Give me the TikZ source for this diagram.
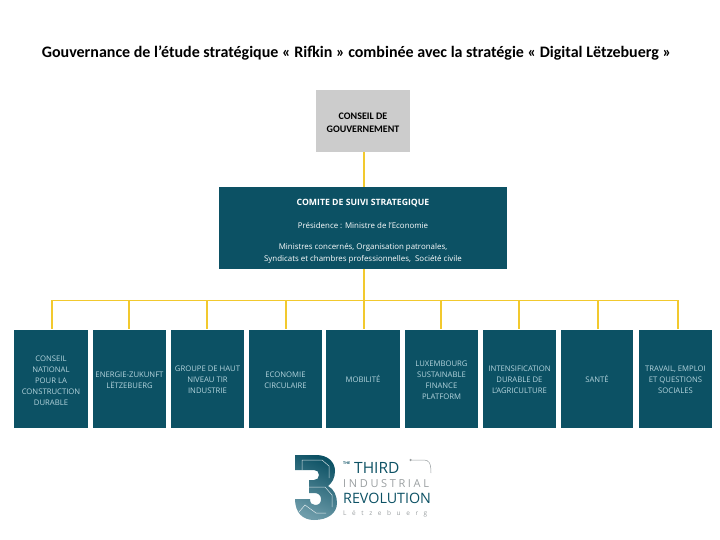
\documentclass[tikz,border=0pt]{standalone}
\usepackage{fontspec}
\usepackage{xcolor}
\usepackage{tikz}
\setmainfont{Carlito}
\newfontfamily\boxfont{Open Sans}
\newfontfamily\logofont{Open Sans}
\newfontfamily\logowide[LetterSpace=86]{Open Sans}
\newfontfamily\logospaced[LetterSpace=24]{Open Sans}
\definecolor{tealbox}{HTML}{0C5164}
\definecolor{greybox}{HTML}{CCCCCC}
\definecolor{paletext}{HTML}{B4D4DD}
\definecolor{goldline}{HTML}{F2C92E}
\definecolor{logolight}{HTML}{6E9CAA}
\definecolor{logogrey}{HTML}{9A9FA1}
\newcommand{\toppad}[1]{\rule{0pt}{#1pt}}
\tikzstyle{headbox} = [rectangle, minimum width=94pt, minimum height=62pt, inner sep=0pt, align=center, fill=greybox, text=black, font=\bfseries\fontsize{10}{12.5}\selectfont]
\tikzstyle{suivibox} = [rectangle, minimum width=288pt, minimum height=82pt, inner sep=0pt, align=center, fill=tealbox, text=white, font=\boxfont\fontsize{7.9}{11.5}\selectfont]
\tikzstyle{themebox} = [rectangle, minimum width=74pt, minimum height=98pt, inner sep=0pt, align=center, fill=tealbox, text=paletext, font=\boxfont\fontsize{7.7}{11}\selectfont]
\tikzstyle{logotext} = [inner sep=0pt, anchor=west, text=tealbox]
\tikzstyle{link} = [draw=goldline, line width=1.3pt]
\tikzstyle{trace} = [draw=white, line width=0.5pt, opacity=0.8]

\begin{document}
\begin{tikzpicture}[x=1pt, y=-1pt]
        \useasboundingbox (0,0) rectangle (720,540);
        \node (title) at (356.5,53) [inner sep=0pt, font=\bfseries\fontsize{16}{18}\selectfont] {Gouvernance de l’étude stratégique « Rifkin » combinée avec la stratégie « Digital Lëtzebuerg »};

        \node (conseil) at (363,121) [headbox] {\toppad{10}CONSEIL DE\\GOUVERNEMENT};
        \node (comite) at (363,228) [suivibox] {\toppad{12}{\bfseries\fontsize{8.7}{11.5}\selectfont COMITE DE SUIVI STRATEGIQUE}\\[11.5pt]Présidence : Ministre de l’Economie\\[10pt]Ministres concernés, Organisation patronales,\\Syndicats et chambres professionnelles,\ \ Société civile};

        \node (cnpcd) at (51,378.5) [themebox] {\toppad{10}CONSEIL\\NATIONAL\\POUR LA\\CONSTRUCTION\\DURABLE};
        \node (energie) at (129.5,378.5) [themebox, minimum width=73pt] {\toppad{10}ENERGIE-ZUKUNFT\\LËTZEBUERG};
        \node (groupe) at (207.5,378.5) [themebox, minimum width=73pt] {\toppad{9}GROUPE DE HAUT\\NIVEAU TIR\\INDUSTRIE};
        \node (economie) at (285.5,378.5) [themebox, minimum width=73pt] {\toppad{10}ECONOMIE\\CIRCULAIRE};
        \node (mobilite) at (363,378.5) [themebox] {MOBILITÉ};
        \node (finance) at (441.5,378.5) [themebox, minimum width=73pt] {\toppad{10}LUXEMBOURG\\SUSTAINABLE\\FINANCE\\PLATFORM};
        \node (agri) at (519.5,378.5) [themebox, minimum width=73pt] {\toppad{9}INTENSIFICATION\\DURABLE DE\\L’AGRICULTURE};
        \node (sante) at (597,378.5) [themebox, minimum width=72pt] {SANTÉ};
        \node (travail) at (675.5,378.5) [themebox, minimum width=73pt] {\toppad{9}TRAVAIL, EMPLOI\\ET QUESTIONS\\SOCIALES};

        \coordinate (bus) at (364,300.5);

        \draw [link] ([xshift=1pt]conseil.south) -- ([xshift=1pt]comite.north);
        \draw [link] ([xshift=1pt]comite.south) -- (bus);
        \draw [link] (bus) -| ([xshift=1pt]cnpcd.north);
        \draw [link] (bus) -| ([xshift=-0.5pt]energie.north);
        \draw [link] (bus) -| ([xshift=-0.5pt]groupe.north);
        \draw [link] (bus) -| ([xshift=0.5pt]economie.north);
        \draw [link] (bus) -- ([xshift=1pt]mobilite.north);
        \draw [link] (bus) -| ([xshift=-0.5pt]finance.north);
        \draw [link] (bus) -| ([xshift=-0.5pt]agri.north);
        \draw [link] (bus) -| ([xshift=1pt]sante.north);
        \draw [link] (bus) -| ([xshift=2.5pt]travail.north);

        % logo
        \shade [top color=tealbox, bottom color=logolight, shading angle=-25]
          (295,455) -- (316,455) .. controls (328,455) and (335,462) .. (335,471)
          .. controls (335,478) and (332,483) .. (328,486)
          .. controls (334,489) and (337,496) .. (337,503)
          .. controls (337,513) and (328,520) .. (314,520)
          .. controls (303,520) and (295,513) .. (295,499)
          -- (310,499) .. controls (310,503) and (312,505) .. (315,505)
          .. controls (319,505) and (321,503) .. (321,499)
          .. controls (321,495) and (318,493) .. (314,493)
          -- (309,493) -- (309,480) -- (314,480)
          .. controls (317,480) and (319,478) .. (319,475)
          .. controls (319,472) and (317,470) .. (314,470)
          -- (295,470) -- cycle;
        \draw [trace] (302,470) -- (302,460) -- (322,460) -- (329,466) -- (329,478);
        \draw [trace] (309,487) -- (325,487) -- (332,495) -- (332,507);
        \draw [trace] (299,512) -- (305,505) -- (316,513) -- (326,513);

        \node (logothe) at (343,463.5) [logotext, font=\logofont\bfseries\fontsize{3.6}{4}\selectfont] {THE};
        \node (logothird) at (354,467.5) [logotext, font=\logofont\fontsize{15.5}{16}\selectfont] {THIRD};
        \node (logoind) at (343,484) [logotext, text=logogrey, font=\logospaced\fontsize{11}{12}\selectfont] {INDUSTRIAL};
        \node (logorev) at (343,498.5) [logotext, font=\logofont\fontsize{14.3}{15}\selectfont] {REVOLUTION};
        \node (logolux) at (343,514) [logotext, text=logogrey, font=\logowide\fontsize{6.5}{8}\selectfont] {Lëtzebuerg};

        \coordinate (wireend) at (431,473);
        \node (wiredot) at (410.5,460) [circle, fill=logogrey, minimum size=2.5pt, inner sep=0pt] {};
        \draw [draw=logogrey, line width=0.5pt] (wiredot) -- (424,460) .. controls (429,460) and (431,463) .. (wireend);
    \end{tikzpicture}
\end{document}
